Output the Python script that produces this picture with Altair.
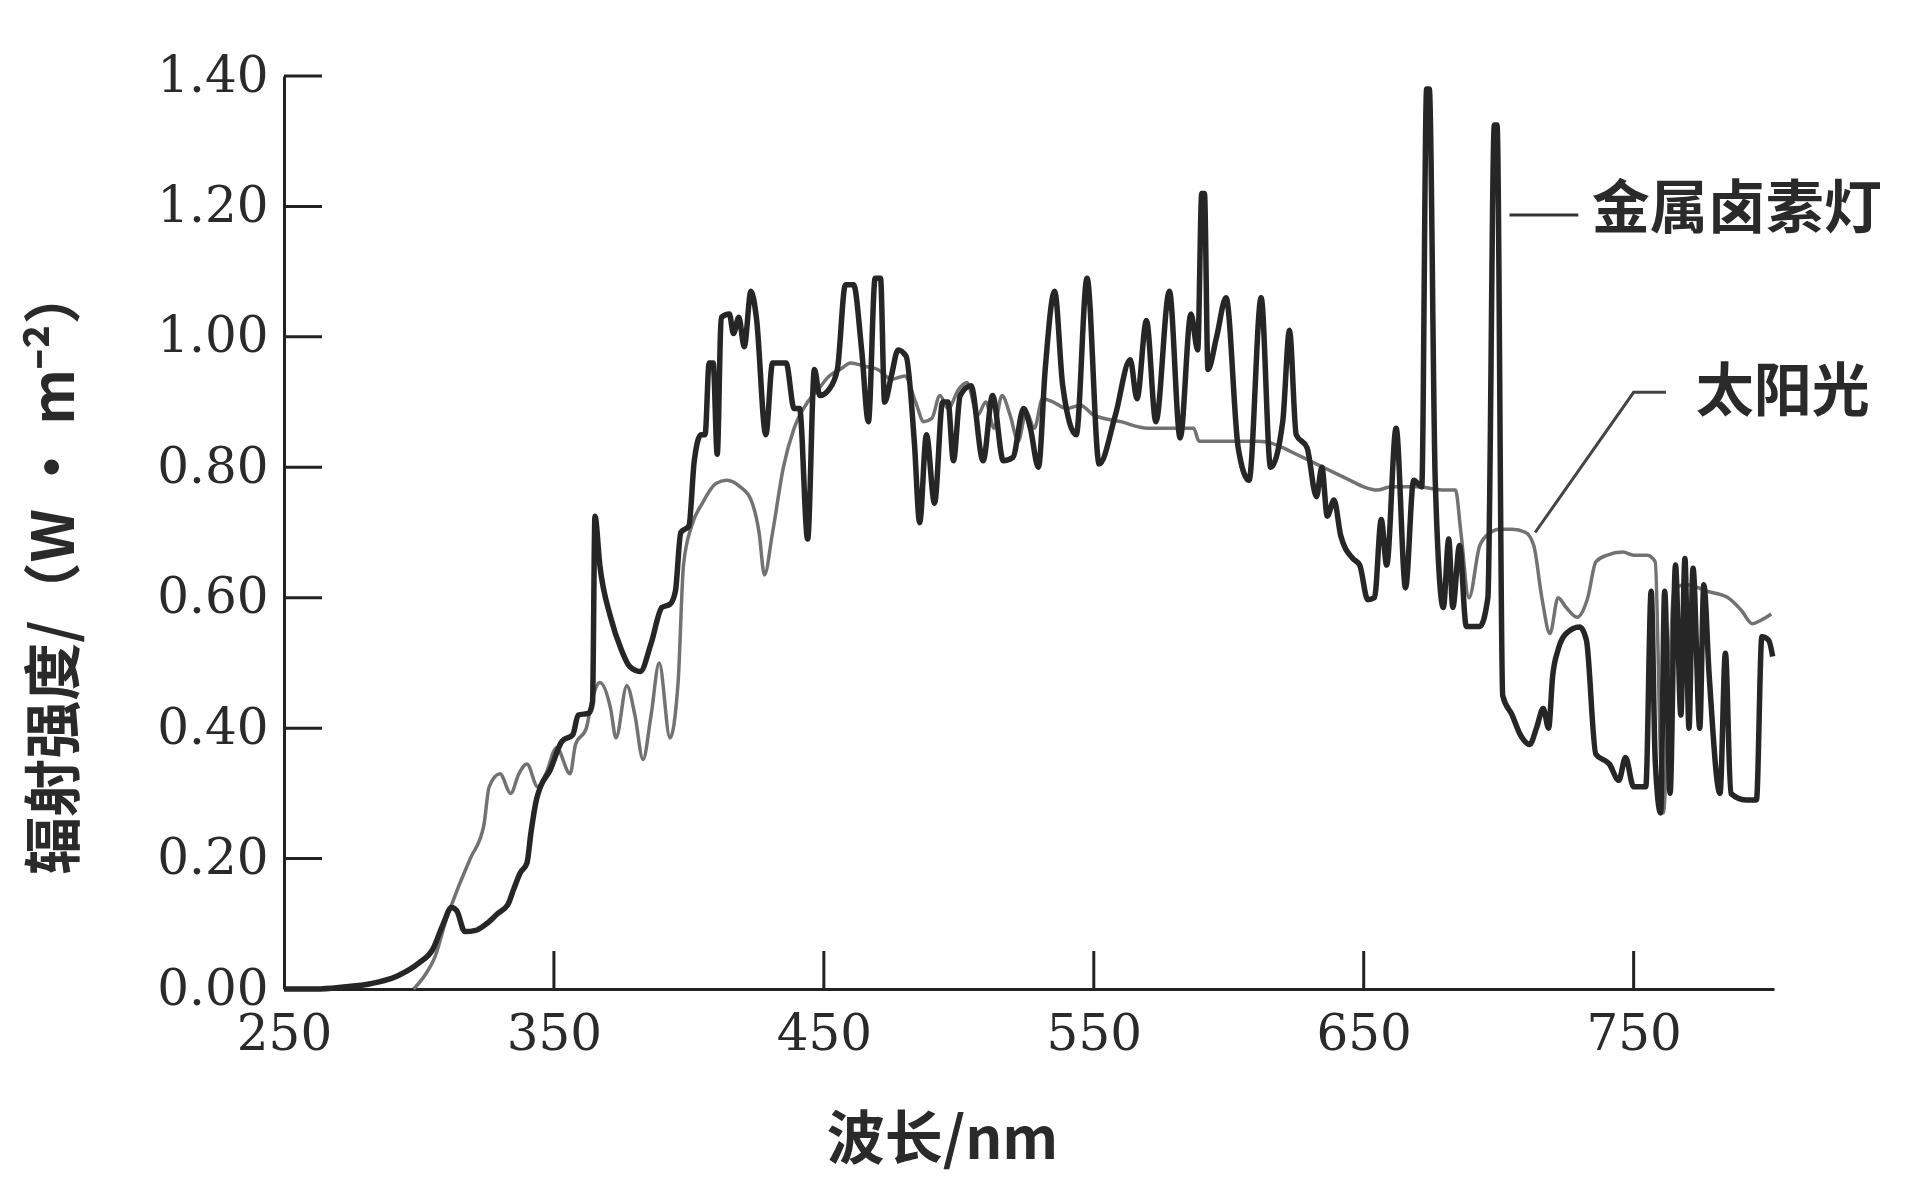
import altair as alt
import pandas as pd

# ---- data ----
sun_nm = [298, 302, 306, 310, 314, 319, 324, 326, 330, 334, 337, 340, 344, 347, 351, 356, 358, 362, 364,
          367, 371, 373, 377, 380, 383, 386, 389, 393, 396, 398, 401, 405, 410, 414, 419, 423, 426, 428,
          431, 435, 439, 444, 448, 452, 456, 460, 465, 470, 475, 480, 484, 487, 490, 493, 496, 500, 503,
          507, 510, 513, 516, 519, 522, 525, 528, 531, 535, 540, 545, 550, 560, 570, 580, 587, 589, 595,
          600, 610, 615, 620, 625, 630, 635, 640, 645, 650, 655, 660, 670, 680, 684, 686, 689, 693, 697,
          700, 705, 710, 713, 716, 719, 722, 725, 729, 733, 736, 740, 746, 750, 755, 758, 760, 761, 763,
          765, 770, 777, 785, 790, 794, 797, 801]
sun_val = [0.0, 0.02, 0.05, 0.105, 0.15, 0.20, 0.25, 0.31, 0.33, 0.30, 0.33, 0.345, 0.31, 0.33, 0.37, 0.33,
           0.375, 0.40, 0.44, 0.47, 0.43, 0.385, 0.465, 0.42, 0.352, 0.42, 0.50, 0.385, 0.47, 0.65, 0.71,
           0.745, 0.775, 0.78, 0.77, 0.75, 0.70, 0.635, 0.70, 0.80, 0.86, 0.90, 0.92, 0.94, 0.95, 0.96,
           0.955, 0.95, 0.935, 0.94, 0.90, 0.87, 0.875, 0.91, 0.89, 0.92, 0.93, 0.88, 0.90, 0.86, 0.91,
           0.88, 0.84, 0.885, 0.86, 0.905, 0.90, 0.89, 0.895, 0.88, 0.87, 0.86, 0.86, 0.86, 0.84, 0.84,
           0.84, 0.84, 0.838, 0.83, 0.82, 0.81, 0.80, 0.79, 0.78, 0.77, 0.765, 0.77, 0.77, 0.765, 0.765,
           0.70, 0.60, 0.68, 0.70, 0.705, 0.705, 0.70, 0.68, 0.60, 0.545, 0.60, 0.585, 0.57, 0.60, 0.655,
           0.665, 0.67, 0.665, 0.665, 0.655, 0.35, 0.27, 0.45, 0.615, 0.62, 0.61, 0.60, 0.58, 0.56, 0.565,
           0.575]

lamp_nm = [250, 262, 272, 282, 292, 300, 305, 309, 312, 314, 317, 321, 325, 329, 333, 335, 337.5, 340,
           341.5, 343.5, 345, 348.5, 353, 357, 359, 363, 364.3, 365.2, 367, 371, 375, 378, 382, 386, 390,
           393, 395, 397, 400, 402, 404.5, 406, 407.5, 409, 410.5, 412, 415, 416.5, 418.5, 420.5, 423, 425,
           428.5, 431, 436, 439, 441, 444, 446.5, 448.5, 452, 455, 458, 461, 464, 466.5, 469, 471, 472.5,
           475, 477.5, 480.5, 483.5, 485.5, 488, 491, 494, 496, 498, 500.5, 504.5, 509, 512.5, 516.5, 520,
           524, 526.5, 529.5, 532, 535.5, 538.5, 543.5, 547.5, 552, 558, 563.5, 566, 569.5, 573, 578, 582,
           586, 588.5, 590, 591, 592.3, 595.5, 599, 603.5, 607.5, 612, 615.5, 620, 622.5, 625, 629, 632.5,
           634.5, 636.5, 639, 641.5, 646, 648.5, 651.5, 654, 656.5, 658.5, 662, 665.5, 668.5, 671.5, 673.3,
           674.3, 676.5, 679.5, 681.5, 683, 685.5, 688, 693, 696, 698.4, 699.4, 701.5, 705, 708, 711.5, 714,
           716.5, 718.5, 720, 722, 725, 730, 732.5, 736, 741, 744.5, 747, 750, 754.5, 756.5, 758, 760,
           761.5, 763.5, 765.5, 767.5, 769, 770.5, 772, 774.5, 776, 778, 782, 784, 786, 791.5, 795.5,
           797.5, 800, 801.5]
lamp_val = [0.0, 0.0, 0.003, 0.008, 0.02, 0.04, 0.06, 0.10, 0.125, 0.12, 0.088, 0.09, 0.10, 0.115, 0.13,
            0.152, 0.178, 0.193, 0.24, 0.29, 0.31, 0.335, 0.38, 0.39, 0.42, 0.423, 0.44, 0.725, 0.65, 0.57,
            0.52, 0.495, 0.487, 0.53, 0.585, 0.59, 0.61, 0.70, 0.71, 0.81, 0.85, 0.85, 0.96, 0.96, 0.82,
            1.03, 1.035, 1.005, 1.03, 0.985, 1.07, 1.03, 0.85, 0.96, 0.96, 0.89, 0.89, 0.69, 0.95, 0.91,
            0.92, 0.95, 1.08, 1.08, 0.98, 0.87, 1.09, 1.09, 0.90, 0.94, 0.98, 0.97, 0.84, 0.715, 0.85,
            0.745, 0.90, 0.90, 0.81, 0.91, 0.925, 0.81, 0.91, 0.81, 0.815, 0.89, 0.86, 0.80, 0.95, 1.07,
            0.925, 0.85, 1.09, 0.805, 0.88, 0.965, 0.905, 1.025, 0.87, 1.07, 0.845, 1.035, 0.98, 1.22,
            1.22, 0.95, 1.0, 1.06, 0.83, 0.78, 1.06, 0.80, 0.87, 1.01, 0.85, 0.83, 0.755, 0.80, 0.725,
            0.75, 0.695, 0.66, 0.65, 0.597, 0.60, 0.72, 0.65, 0.86, 0.615, 0.78, 0.77, 1.38, 1.38, 0.78,
            0.585, 0.69, 0.585, 0.68, 0.556, 0.556, 0.60, 1.325, 1.325, 0.45, 0.42, 0.39, 0.375, 0.40,
            0.43, 0.40, 0.48, 0.52, 0.545, 0.555, 0.535, 0.36, 0.345, 0.32, 0.355, 0.31, 0.31, 0.61, 0.35,
            0.27, 0.61, 0.30, 0.65, 0.42, 0.66, 0.40, 0.645, 0.40, 0.62, 0.48, 0.30, 0.515, 0.30, 0.29,
            0.29, 0.54, 0.535, 0.51]

x_tick_values = [250, 350, 450, 550, 650, 750]
y_tick_values = [0.0, 0.2, 0.4, 0.6, 0.8, 1.0, 1.2, 1.4]

label_text = ["金属卤素灯", "太阳光"]
label_nm = [734.5, 773.0]
label_val = [1.193, 0.912]

lamp_leader_nm = [704.0, 729.5]
lamp_leader_val = [1.187, 1.187]
sun_leader_nm = [713.5, 750.0, 762.0]
sun_leader_val = [0.70, 0.915, 0.915]

# ---- geometry ----
W, H = 1490, 913
TICK = 38

xs = alt.Scale(domain=[250, 802], nice=False, zero=False)
ys = alt.Scale(domain=[0, 1.4], nice=False, zero=False)

CJK = "Noto Sans CJK SC"
SERIF = "DejaVu Serif"
TXT = "#2a2a2a"

sun_df = pd.DataFrame({"nm": sun_nm, "v": sun_val})
lamp_df = pd.DataFrame({"nm": lamp_nm, "v": lamp_val})

x_axis = alt.Axis(values=x_tick_values, ticks=False, grid=False, domainColor="#222", domainWidth=3,
                  labelFont=SERIF, labelFontSize=50, labelColor=TXT, labelPadding=20,
                  labelFlush=False, labelOverlap=False,
                  title="波长/nm", titleFont=CJK, titleFontSize=58, titleFontWeight="bold",
                  titleColor=TXT, titleX=658, titleY=152, titleBaseline="middle", titleAlign="center")
y_axis = alt.Axis(values=y_tick_values, format=".2f", ticks=False, grid=False, domainColor="#222",
                  domainWidth=3, labelFont=SERIF, labelFontSize=50, labelColor=TXT, labelPadding=16,
                  labelFlush=False, labelOverlap=False, titleLimit=900,
                  title="辐射强度/（W · m⁻²）", titleFont=CJK, titleFontSize=58, titleFontWeight="bold",
                  titleColor=TXT, titleX=-228, titleY=494, titleAngle=270, titleBaseline="middle",
                  titleAlign="center")

X = alt.X("nm:Q", scale=xs, axis=x_axis, title="波长/nm")
Y = alt.Y("v:Q", scale=ys, axis=y_axis, title="辐射强度/（W · m⁻²）")

sun_line = alt.Chart(sun_df).mark_line(color="#727272", strokeWidth=3.5, interpolate="monotone").encode(
    x=X, y=Y)
lamp_line = alt.Chart(lamp_df).mark_line(color="#262626", strokeWidth=5.5, interpolate="monotone").encode(
    x=X, y=Y)

ytick_df = pd.DataFrame({"v": y_tick_values[1:]})
ytick = alt.Chart(ytick_df).mark_rule(color="#222", strokeWidth=3).encode(
    y=Y, x=alt.value(0), x2=alt.value(TICK))

xtick_df = pd.DataFrame({"nm": x_tick_values[1:]})
xtick = alt.Chart(xtick_df).mark_rule(color="#222", strokeWidth=3).encode(
    x=X, y=alt.value(H), y2=alt.value(H - TICK))

lamp_leader = alt.Chart(pd.DataFrame({"nm": lamp_leader_nm, "v": lamp_leader_val, "o": [0, 1]})).mark_line(
    color="#333", strokeWidth=3).encode(x=X, y=Y, order="o:Q")
sun_leader = alt.Chart(pd.DataFrame({"nm": sun_leader_nm, "v": sun_leader_val, "o": [0, 1, 2]})).mark_line(
    color="#444", strokeWidth=3).encode(x=X, y=Y, order="o:Q")

labels = alt.Chart(pd.DataFrame({"nm": label_nm, "v": label_val, "t": label_text})).mark_text(
    font=CJK, fontSize=58, fontWeight="bold", align="left", baseline="middle", color=TXT).encode(
    x=X, y=Y, text="t:N")

chart = alt.layer(sun_line, lamp_line, ytick, xtick, lamp_leader, sun_leader, labels).properties(
    width=W, height=H,
    background="white",
    autosize=alt.AutoSizeParams(type="none"),
    padding={"left": 276, "top": 68, "right": 136, "bottom": 186},
).configure_view(stroke=None)

chart.save("out.html", embed_options={"renderer": "svg", "actions": False})
